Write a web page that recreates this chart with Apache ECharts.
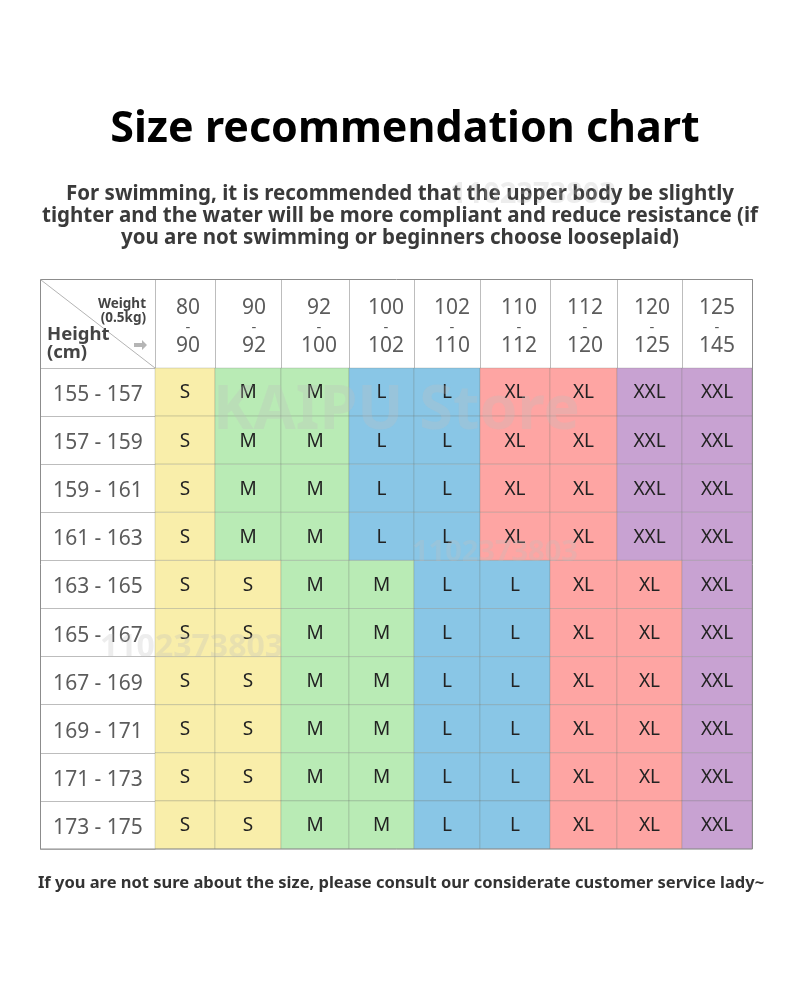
<!DOCTYPE html>
<html>
<head>
<meta charset="utf-8">
<style>
    html, body { margin: 0; padding: 0; background: #fff; }
    #sizeChart { width: 790px; height: 1000px; }
</style>
<script src="https://cdn.jsdelivr.net/npm/echarts@6/dist/echarts.min.js"></script>
</head>
<body>
<div id="sizeChart"></div>
<script>
// weight ranges, header columns
const weightFrom = ["80", "90", "92", "100", "102", "110", "112", "120", "125"];
const weightTo = ["90", "92", "100", "102", "110", "112", "120", "125", "145"];
// column edges on the x axis (the columns are not quite equal in the picture)
const columnEdges = [0, 60, 126, 194, 259, 325, 395, 462, 527, 597];
// header text does not sit quite in the middle of its column
const headerAt = [33, 99, 164, 231, 297, 364, 430, 497, 562];

const heights = ["155 - 157", "157 - 159", "159 - 161", "161 - 163", "163 - 165",
    "165 - 167", "167 - 169", "169 - 171", "171 - 173", "173 - 175"];

const rowA = ["S", "M", "M", "L", "L", "XL", "XL", "XXL", "XXL"];
const rowB = ["S", "S", "M", "M", "L", "L", "XL", "XL", "XXL"];
const sizeRows = [rowA, rowA, rowA, rowA, rowB, rowB, rowB, rowB, rowB, rowB];

const sizeColors = {
    "S": "#f9eeaa",
    "M": "#b9ebb5",
    "L": "#89c6e6",
    "XL": "#fea5a3",
    "XXL": "#c8a2d2"
};

const titleText = "Size recommendation chart";
const subText = "For swimming, it is recommended that the upper body be slightly\n" +
    "tighter and the water will be more compliant and reduce resistance (if\n" +
    "you are not swimming or beginners choose looseplaid)";
const footText = "If you are not sure about the size, please consult our considerate customer service lady~";

const FONT = '"Noto Sans", sans-serif';
const LINE = "#bdbdbd";

let cells = [];
for (let r = 0; r < sizeRows.length; r++) {
    for (let c = 0; c < sizeRows[r].length; c++) {
        cells.push([c, r, sizeRows[r][c]]);
    }
}

function renderCell(params, api) {
    let c = api.value(0);
    let r = api.value(1);
    let size = sizeRows[r][c];
    let bandH = api.size([0, 1])[1];
    let p0 = api.coord([columnEdges[c], r]);
    let p1 = api.coord([columnEdges[c + 1], r]);
    return {
        type: "group",
        children: [{
            type: "rect",
            shape: {x: p0[0], y: p0[1] - bandH / 2, width: p1[0] - p0[0], height: bandH},
            style: {fill: sizeColors[size], stroke: "rgba(110,120,110,0.25)", lineWidth: 1}
        }, {
            type: "text",
            style: {
                x: (p0[0] + p1[0]) / 2,
                y: p0[1] + 1,
                text: size,
                align: "center",
                verticalAlign: "middle",
                fill: "#222",
                font: '400 19px ' + FONT
            }
        }]
    };
}

function watermark(text, x, y, size) {
    return {
        type: "text",
        z: 100,
        x: x,
        y: y,
        style: {
            text: text,
            fill: "rgba(190,190,190,0.28)",
            font: "700 " + size + "px " + FONT,
            verticalAlign: "middle"
        }
    };
}

const chart = echarts.init(document.getElementById("sizeChart"), null, {renderer: "canvas"});

let option = {
    backgroundColor: "#fff",
    animation: false,
    title: [{
        text: titleText,
        left: 400,
        top: 103,
        textAlign: "center",
        textStyle: {fontFamily: FONT, fontSize: 43, fontWeight: 700, color: "#000"}
    }, {
        text: subText,
        left: 395,
        top: 178,
        textAlign: "center",
        textStyle: {fontFamily: FONT, fontSize: 20.5, fontWeight: 700, color: "#3a3a3a", lineHeight: 22, align: "center"}
    }, {
        text: footText,
        left: 396,
        top: 870,
        textAlign: "center",
        textStyle: {fontFamily: FONT, fontSize: 16.5, fontWeight: 700, color: "#333"}
    }],
    grid: {left: 155, right: 38, top: 368, bottom: 151},
    xAxis: {
        type: "value",
        position: "top",
        min: 0,
        max: columnEdges[columnEdges.length - 1],
        splitLine: {show: false},
        axisLine: {show: true, lineStyle: {color: LINE}},
        axisTick: {show: true, customValues: columnEdges, length: 89, lineStyle: {color: LINE}},
        axisLabel: {
            customValues: headerAt,
            margin: 12,
            hideOverlap: false,
            showMinLabel: true,
            showMaxLabel: true,
            formatter: function (value) {
                let i = headerAt.indexOf(value);
                return "{n|" + weightFrom[i] + "}\n{d|-}\n{n|" + weightTo[i] + "}";
            },
            rich: {
                n: {fontFamily: FONT, fontSize: 21, color: "#5c5c5c", lineHeight: 19},
                d: {fontFamily: FONT, fontSize: 15, color: "#5c5c5c", lineHeight: 19}
            }
        }
    },
    yAxis: {
        type: "category",
        inverse: true,
        data: heights,
        axisLine: {show: true, lineStyle: {color: LINE}},
        axisTick: {show: true, length: 115, lineStyle: {color: LINE}},
        axisLabel: {
            margin: 57,
            align: "center",
            formatter: function (value) {
                return "{h|" + value + "}";
            },
            rich: {
                h: {fontFamily: FONT, fontSize: 21, color: "#5c5c5c", padding: [6, 0, 0, 0]}
            }
        }
    },
    series: [{
        type: "custom",
        coordinateSystem: "cartesian2d",
        renderItem: renderCell,
        encode: {x: 0, y: 1},
        data: cells,
        silent: true
    }],
    graphic: [{
        type: "rect",
        z: 50,
        shape: {x: 40.5, y: 279.5, width: 712, height: 569.5},
        style: {fill: "transparent", stroke: "#8c8c8c", lineWidth: 1}
    }, {
        type: "line",
        z: 50,
        shape: {x1: 41, y1: 280, x2: 155, y2: 368},
        style: {stroke: "#b4b4b4", lineWidth: 1}
    }, {
        type: "text",
        z: 50,
        x: 146,
        y: 304,
        style: {text: "Weight", align: "right", verticalAlign: "middle", fill: "#444", font: "700 13.5px " + FONT}
    }, {
        type: "text",
        z: 50,
        x: 146,
        y: 318,
        style: {text: "(0.5kg)", align: "right", verticalAlign: "middle", fill: "#444", font: "700 13.5px " + FONT}
    }, {
        type: "text",
        z: 50,
        x: 47,
        y: 335,
        style: {text: "Height", verticalAlign: "middle", fill: "#444", font: "700 18.5px " + FONT}
    }, {
        type: "text",
        z: 50,
        x: 47,
        y: 353,
        style: {text: "(cm)", verticalAlign: "middle", fill: "#444", font: "700 18.5px " + FONT}
    }, {
        type: "polygon",
        z: 50,
        shape: {points: [[134, 343], [142, 343], [142, 340], [147, 345], [142, 350], [142, 347], [134, 347]]},
        style: {fill: "#b5b5b5"}
    },
    watermark("KAIPU Store", 213, 412, 61),
    watermark("1102373803", 412, 553, 29),
    watermark("1102373803", 100, 648, 32),
    watermark("1102373803", 450, 195, 29)]
};

chart.setOption(option);
</script>
</body>
</html>
